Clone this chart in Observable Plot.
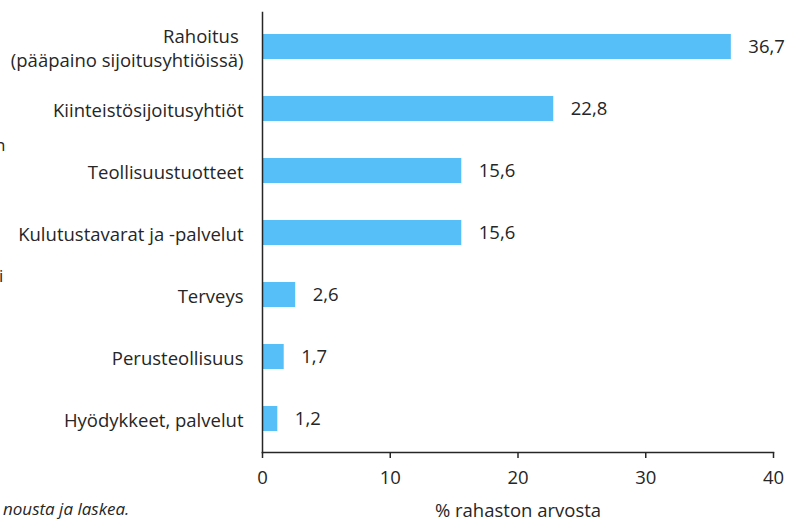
<!DOCTYPE html>
<html>
<head>
<meta charset="utf-8">
<script src="https://cdn.jsdelivr.net/npm/d3@7"></script>
<script src="https://cdn.jsdelivr.net/npm/@observablehq/plot@0.6"></script>
<style>
  html, body { margin: 0; padding: 0; background: #fff; }
  #wrap { position: relative; width: 789px; height: 519px; overflow: hidden; font-family: "Open Sans", sans-serif; color: #262626; }
  .stray { position: absolute; font-size: 17px; color: #262626; white-space: nowrap; }
</style>
</head>
<body>
<div id="wrap"></div>
<script>
const categories = [
  "Rahoitus \n(pääpaino sijoitusyhtiöissä)",
  "Kiinteistösijoitusyhtiöt",
  "Teollisuustuotteet",
  "Kulutustavarat ja -palvelut",
  "Terveys",
  "Perusteollisuus",
  "Hyödykkeet, palvelut"
];
const values = [36.7, 22.8, 15.6, 15.6, 2.6, 1.7, 1.2];
const xTicks = [0, 10, 20, 30, 40];
const xLabel = "% rahaston arvosta";
const strayTexts = ["n", "i", "nousta ja laskea."];

const data = categories.map((c, i) => ({ cat: c, val: values[i] }));
const fmt = v => v.toFixed(1).replace(".", ",");
const FS = 18.5;

const chart = Plot.plot({
  width: 789,
  height: 519,
  marginLeft: 262,
  marginRight: 16,
  marginTop: 12,
  marginBottom: 67,
  style: { fontFamily: "Open Sans, sans-serif", fontSize: FS + "px", color: "#262626", background: "#fff" },
  x: { domain: [0, 40] },
  y: { domain: categories, paddingInner: 0.6, paddingOuter: 0.3 },
  marks: [
    Plot.barX(data, { x: "val", y: "cat", fill: "#56bff7" }),
    Plot.text(data, { x: "val", y: "cat", text: d => fmt(d.val), textAnchor: "start", dx: 17, fill: "#262626", fontSize: FS }),
    Plot.axisY({ tickSize: 0, tickPadding: 19, label: null, fontSize: FS, lineHeight: 1.35, fill: "#262626" }),
    Plot.frame({ anchor: "left", stroke: "#262626", strokeWidth: 1.5 }),
    Plot.frame({ anchor: "bottom", stroke: "#262626", strokeWidth: 1.5 }),
    Plot.ruleX(xTicks, { x: d => d, stroke: "#262626", strokeWidth: 1.5, insetTop: 440, insetBottom: -6 }),
    Plot.axisX({ ticks: xTicks, tickSize: 0, tickPadding: 18, tickFormat: d => String(d), label: null, fill: "#262626", fontSize: FS }),
    Plot.axisX({ ticks: [], label: xLabel, labelAnchor: "center", labelOffset: 64, labelArrow: "none", fill: "#262626", fontSize: FS })
  ]
});
const wrap = document.getElementById("wrap");
wrap.appendChild(chart);

const pos = [
  { left: -5, top: 133, italic: false },
  { left: -1, top: 264, italic: false },
  { left: 3, top: 497, italic: true }
];
strayTexts.forEach((t, i) => {
  const s = document.createElement("span");
  s.className = "stray";
  s.textContent = t;
  s.style.left = pos[i].left + "px";
  s.style.top = pos[i].top + "px";
  if (pos[i].italic) s.style.fontStyle = "italic";
  wrap.appendChild(s);
});
</script>
</body>
</html>
